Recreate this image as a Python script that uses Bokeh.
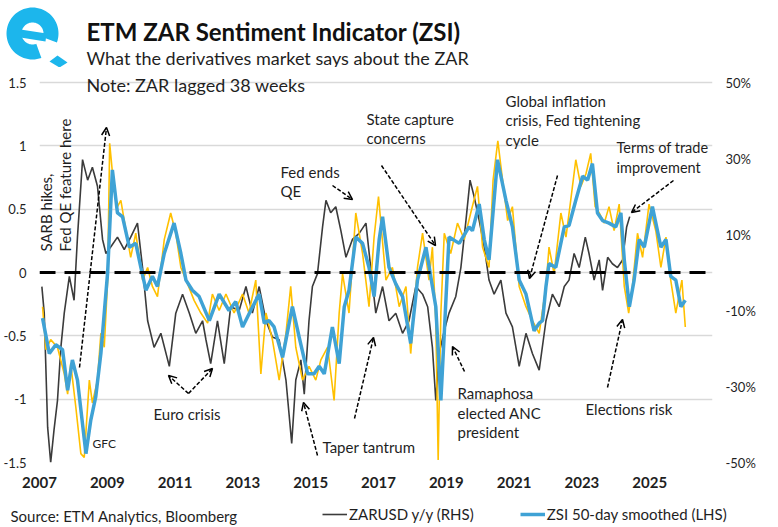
import math
from bokeh.plotting import figure
from bokeh.layouts import column
from bokeh.models import (Range1d, LinearAxis, FixedTicker, PrintfTickFormatter, Span,
                          Label, Arrow, OpenHead, Legend, LegendItem)
from bokeh.embed import file_html
from bokeh.resources import INLINE

# ---------------- data ----------------
year_ticks = [2007, 2009, 2011, 2013, 2015, 2017, 2019, 2021, 2023, 2025]
year_labels = ["2007", "2009", "2011", "2013", "2015", "2017", "2019", "2021", "2023", "2025"]
lhs_ticks = [-1.5, -1, -0.5, 0, 0.5, 1, 1.5]
lhs_labels = ["-1.5", "-1", "-0.5", "0", "0.5", "1", "1.5"]
rhs_ticks = [-50, -30, -10, 10, 30, 50]

# ZSI 50-day smoothed (LHS)
zsi_years = [2007.09, 2007.29, 2007.48, 2007.68, 2007.83, 2007.97, 2008.12, 2008.37, 2008.51, 2008.66,
             2008.81, 2009.01, 2009.15, 2009.30, 2009.45, 2009.65, 2009.84, 2009.99, 2010.14, 2010.33,
             2010.48, 2010.68, 2010.97, 2011.17, 2011.32, 2011.51, 2011.71, 2012.01, 2012.30, 2012.59,
             2012.79, 2012.99, 2013.23, 2013.48, 2013.63, 2013.77, 2013.92, 2014.17, 2014.46, 2014.66,
             2014.91, 2015.10, 2015.25, 2015.40, 2015.64, 2015.84, 2015.99, 2016.13, 2016.33, 2016.53,
             2016.72, 2016.87, 2017.02, 2017.12, 2017.31, 2017.51, 2017.71, 2017.95, 2018.15, 2018.40,
             2018.59, 2018.69, 2018.84, 2018.94, 2019.08, 2019.38, 2019.67, 2019.77, 2019.97, 2020.12,
             2020.26, 2020.51, 2020.76, 2020.95, 2021.15, 2021.35, 2021.59, 2021.74, 2021.84, 2021.94,
             2022.03, 2022.23, 2022.48, 2022.62, 2022.82, 2023.02, 2023.17, 2023.31, 2023.46, 2023.61,
             2023.80, 2024.00, 2024.15, 2024.25, 2024.40, 2024.54, 2024.69, 2024.84, 2025.08, 2025.33,
             2025.48, 2025.62, 2025.77, 2025.92, 2026.05]
zsi_smooth = [-0.36, -0.64, -0.57, -0.61, -0.93, -0.69, -0.85, -1.43, -1.17, -0.98,
              -0.64, 0.00, 0.81, 0.47, 0.44, 0.20, 0.23, 0.04, -0.14, -0.03,
              -0.11, 0.15, 0.39, 0.15, -0.06, -0.14, -0.19, -0.38, -0.17, -0.30,
              -0.23, -0.43, -0.30, -0.17, -0.40, -0.38, -0.43, -0.67, -0.27, -0.51,
              -0.80, -0.80, -0.74, -0.80, -0.43, -0.72, -0.27, -0.14, 0.28, 0.23,
              0.04, -0.19, 0.26, 0.44, 0.04, -0.09, -0.19, -0.56, -0.06, 0.20,
              -0.11, -0.27, -1.01, -0.48, 0.28, 0.23, 0.36, 0.33, 0.54, 0.26,
              0.10, 0.89, 0.57, 0.36, -0.06, -0.17, -0.46, -0.40, -0.38, -0.11,
              0.07, 0.04, 0.36, 0.37, 0.57, 0.76, 0.73, 0.86, 0.47, 0.41,
              0.39, 0.36, 0.47, 0.10, -0.27, -0.06, 0.26, 0.20, 0.52, 0.20,
              0.26, -0.03, -0.06, -0.27, -0.22]

# ZSI raw (LHS, yellow)
raw_years = [2007.09, 2007.19, 2007.33, 2007.53, 2007.73, 2007.83, 2007.92, 2008.07, 2008.22, 2008.32,
             2008.47, 2008.56, 2008.71, 2008.81, 2008.91, 2009.01, 2009.07, 2009.20, 2009.30, 2009.40,
             2009.55, 2009.69, 2009.84, 2010.04, 2010.19, 2010.33, 2010.48, 2010.68, 2010.87, 2011.02,
             2011.17, 2011.37, 2011.56, 2011.76, 2011.96, 2012.10, 2012.30, 2012.50, 2012.74, 2012.99,
             2013.18, 2013.38, 2013.53, 2013.68, 2013.87, 2014.07, 2014.27, 2014.41, 2014.56, 2014.76,
             2014.95, 2015.15, 2015.30, 2015.50, 2015.69, 2015.84, 2015.94, 2016.13, 2016.33, 2016.53,
             2016.72, 2016.87, 2017.00, 2017.22, 2017.41, 2017.61, 2017.81, 2017.95, 2018.15, 2018.30,
             2018.49, 2018.59, 2018.69, 2018.76, 2018.84, 2018.94, 2019.13, 2019.33, 2019.53, 2019.72,
             2019.92, 2020.07, 2020.26, 2020.38, 2020.52, 2020.66, 2020.81, 2020.95, 2021.15, 2021.35,
             2021.54, 2021.74, 2021.94, 2022.03, 2022.18, 2022.38, 2022.53, 2022.67, 2022.82, 2022.97,
             2023.12, 2023.26, 2023.39, 2023.51, 2023.66, 2023.80, 2023.95, 2024.10, 2024.25, 2024.38,
             2024.49, 2024.64, 2024.79, 2024.98, 2025.18, 2025.33, 2025.48, 2025.62, 2025.77, 2025.95,
             2026.05]
zsi_raw = [-0.27, -0.61, -0.53, -0.59, -0.80, -0.96, -0.72, -1.06, -1.43, -1.46,
           -0.85, -1.03, -0.85, -0.48, -0.59, -0.06, 1.02, 0.65, 0.52, 0.57,
           0.33, 0.12, 0.31, -0.06, 0.04, -0.11, -0.19, 0.26, 0.47, 0.31,
           0.04, -0.09, -0.22, -0.32, -0.40, -0.17, -0.30, -0.17, -0.32, -0.17,
           -0.32, -0.06, -0.80, -0.32, -0.53, -0.85, -0.48, -0.11, -0.59, -0.85,
           -0.74, -0.85, -0.69, -0.59, -1.01, -0.32, -0.01, -0.32, 0.47, 0.15,
           -0.27, 0.28, 0.60, -0.06, 0.04, -0.27, -0.11, -0.64, 0.04, 0.31,
           -0.06, 0.20, -0.38, -1.48, -0.32, 0.31, 0.15, 0.39, 0.26, 0.47,
           0.68, 0.20, 0.04, 0.73, 1.04, 0.73, 0.41, 0.52, -0.11, -0.27,
           -0.38, -0.48, -0.11, 0.20, -0.01, 0.47, 0.28, 0.57, 0.89, 0.68,
           0.78, 0.94, 0.52, 0.47, 0.39, 0.52, 0.33, 0.54, -0.11, -0.32,
           -0.11, 0.31, 0.12, 0.54, 0.33, 0.04, 0.28, -0.06, -0.32, -0.06,
           -0.43]

# ZARUSD y/y, % (RHS, lagged 38 weeks)
zar_years = [2007.07, 2007.14, 2007.24, 2007.33, 2007.43, 2007.53, 2007.63, 2007.73, 2007.88, 2008.02,
             2008.12, 2008.27, 2008.42, 2008.56, 2008.71, 2008.86, 2008.96, 2009.10, 2009.30, 2009.50,
             2009.69, 2009.89, 2010.04, 2010.19, 2010.38, 2010.58, 2010.83, 2011.02, 2011.22, 2011.42,
             2011.61, 2011.81, 2011.91, 2012.05, 2012.25, 2012.45, 2012.64, 2012.89, 2013.09, 2013.28,
             2013.48, 2013.68, 2013.87, 2014.07, 2014.27, 2014.44, 2014.56, 2014.71, 2014.81, 2014.95,
             2015.05, 2015.20, 2015.35, 2015.45, 2015.59, 2015.74, 2015.89, 2016.04, 2016.23, 2016.43,
             2016.63, 2016.77, 2016.92, 2017.12, 2017.31, 2017.51, 2017.71, 2017.90, 2018.10, 2018.30,
             2018.45, 2018.59, 2018.69, 2018.79, 2018.94, 2019.08, 2019.28, 2019.43, 2019.58, 2019.70,
             2019.82, 2019.97, 2020.12, 2020.26, 2020.41, 2020.61, 2020.76, 2020.95, 2021.15, 2021.35,
             2021.54, 2021.74, 2021.94, 2022.13, 2022.33, 2022.48, 2022.62, 2022.77, 2022.92, 2023.10,
             2023.21, 2023.36, 2023.51, 2023.61, 2023.76, 2023.90, 2024.05, 2024.20, 2024.32, 2024.41]
zar_yoy = [-3.7, -10.7, -40.7, -50.0, -41.3, -33.7, -19.7, -10.7, -1.0, -7.3,
           9.3, 29.7, 24.3, 27.7, 22.7, 8.7, 5.0, 6.7, 9.3, 6.0,
           9.3, 13.0, 1.3, -12.7, -19.7, -16.0, -24.7, -10.7, -5.7, -10.7,
           -16.0, -12.7, -17.7, -24.0, -12.7, -24.0, -9.0, -10.0, -3.7, -10.7,
           -3.7, -12.7, -17.0, -17.7, -28.3, -45.0, -28.3, -23.0, -32.0, -12.7,
           -3.7, -0.3, 12.0, 19.0, 15.7, 17.3, 11.0, 4.0, 8.7, 10.3,
           13.0, 1.3, -10.7, -3.7, -12.7, -10.7, -16.0, -12.7, -3.7, -5.7,
           -9.0, -19.7, -33.7, -21.3, -15.3, -10.7, -6.3, 1.3, 13.7, 24.3,
           20.0, 13.7, 6.7, -2.0, -5.7, -2.0, -10.7, -14.3, -24.7, -16.0,
           -21.3, -25.7, -12.7, -5.7, -9.0, -3.7, -2.0, 5.0, 1.3, 9.3,
           5.0, -2.0, 3.3, -4.7, 4.0, 2.3, 1.3, 3.3, 12.0, 14.7]

# ---------------- layout constants (page pixels) ----------------
W = 778
HEAD_H = 67                 # header strip (logo, title, subtitle)
MAIN_H = 433                # chart
FOOT_H = 527 - HEAD_H - MAIN_H   # footer strip (source, legend)
F_LEFT, F_RIGHT = 39, 712   # frame left / right on the page
F_TOP, F_BOT = HEAD_H, 462  # frame top / bottom on the page
PX_YEAR = 33.9
PX_UNIT = 380 / 3.0         # pixels per LHS unit
FONT = "Lato"
INK = "#1f1f1f"
GREY, YELLOW, BLUE = "#3b3b3b", "#FFC000", "#3FA2D5"

X0 = 2007.0
X1 = X0 + (F_RIGHT - F_LEFT) / PX_YEAR
Y0 = -1.5
Y1 = Y0 + (F_BOT - F_TOP) / PX_UNIT


def xd(px):  # page x -> data x
    return X0 + (px - F_LEFT) / PX_YEAR


def yd(py):  # page y -> data y
    return 1.5 - (py - 82) / PX_UNIT


def strip(height):
    fig = figure(width=W, height=height, output_backend="svg", toolbar_location=None,
                 x_range=Range1d(0, W), y_range=Range1d(height, 0),
                 x_axis_location=None, y_axis_location=None,
                 min_border=0, min_border_left=0, min_border_right=0,
                 min_border_top=0, min_border_bottom=0)
    fig.frame_align = False
    fig.grid.visible = False
    fig.outline_line_color = None
    fig.background_fill_color = "white"
    fig.border_fill_color = "white"
    return fig


# ---------------- header ----------------
head = strip(HEAD_H)
LOGO = "#1CB6EC"
cx, cy, ro, ri = 32, 33, 26, 11
outer = [(cx + ro * math.cos(math.radians(a)), cy + ro * math.sin(math.radians(a)))
         for a in range(70, 381, 5)]
inner = [(cx + ri * math.cos(math.radians(a)), cy + ri * math.sin(math.radians(a)))
         for a in range(380, 69, -5)]
ring = outer + inner
head.patch([a for a, b in ring], [b for a, b in ring], fill_color=LOGO, line_alpha=0)
bar = [(cx - ri - 1, cy - 4), (cx + ri + 3, cy), (cx + ri + 2, cy + 8), (cx - ri - 1, cy + 4)]
head.patch([a for a, b in bar], [b for a, b in bar], fill_color=LOGO, line_alpha=0)
diamond = [(49, 61), (57, 55), (67, 62), (59, 67)]
head.patch([a for a, b in diamond], [b for a, b in diamond], fill_color=LOGO, line_alpha=0)

head.add_layout(Label(x=86, y=31, text="ETM ZAR Sentiment Indicator (ZSI)", text_font=FONT,
                      text_font_size="24px", text_font_style="bold", text_color="#111111",
                      text_baseline="alphabetic"))
head.add_layout(Label(x=86, y=57, text="What the derivatives market says about the ZAR",
                      text_font=FONT, text_font_size="18px", text_color=INK,
                      text_baseline="alphabetic"))

# ---------------- main chart ----------------
p = figure(width=W, height=MAIN_H, output_backend="svg", toolbar_location=None,
           x_range=Range1d(X0, X1), y_range=Range1d(Y0, Y1),
           min_border_left=F_LEFT, min_border_right=W - F_RIGHT,
           min_border_top=0, min_border_bottom=MAIN_H - (F_BOT - F_TOP))
p.frame_align = False
p.outline_line_color = None
p.background_fill_color = "white"
p.border_fill_color = "white"

p.xaxis.ticker = FixedTicker(ticks=year_ticks)
p.xaxis.major_label_overrides = dict(zip(year_ticks, year_labels))
p.xaxis.major_label_text_font = FONT
p.xaxis.major_label_text_font_size = "15px"
p.xaxis.major_label_text_font_style = "bold"
p.xaxis.major_label_text_color = INK
p.xaxis.major_label_standoff = 14
p.yaxis.ticker = FixedTicker(ticks=lhs_ticks)
p.yaxis.major_label_overrides = dict(zip(lhs_ticks, lhs_labels))
p.yaxis.major_label_text_font = FONT
p.yaxis.major_label_text_font_size = "13px"
p.yaxis.major_label_text_color = INK
p.yaxis.major_label_standoff = 13

p.extra_y_ranges = {"pct": Range1d(-50, -50 + (F_BOT - F_TOP) / (380 / 100.0))}
rax = LinearAxis(y_range_name="pct", ticker=FixedTicker(ticks=rhs_ticks),
                 formatter=PrintfTickFormatter(format="%d%%"))
rax.major_label_text_font = FONT
rax.major_label_text_font_size = "13px"
rax.major_label_text_color = INK
rax.major_label_standoff = 13
p.add_layout(rax, "right")

for ax in (p.xaxis[0], p.yaxis[0], rax):
    ax.axis_line_color = None
    ax.major_tick_line_color = None
    ax.minor_tick_line_color = None
    ax.major_tick_out = 0
    ax.major_tick_in = 0
    ax.minor_tick_out = 0
    ax.minor_tick_in = 0

p.xgrid.visible = False
p.ygrid.ticker = FixedTicker(ticks=lhs_ticks)
p.ygrid.grid_line_color = "#d9d9d9"
p.ygrid.grid_line_width = 1.5

r_zar = p.line(zar_years, zar_yoy, y_range_name="pct", line_color=GREY, line_width=1.6)
r_raw = p.line(raw_years, zsi_raw, line_color=YELLOW, line_width=1.6)
r_zsi = p.line(zsi_years, zsi_smooth, line_color=BLUE, line_width=3.5)

p.add_layout(Span(location=0, dimension="width", line_color="black",
                  line_width=3, line_dash="16 9"))


def text(px, py, s, size="15px", angle=0.0):
    p.add_layout(Label(x=xd(px), y=yd(py), text=s, text_font=FONT, text_font_size=size,
                       text_align="left", text_baseline="middle", angle=angle,
                       text_color=INK))


p.add_layout(Label(x=xd(86), y=yd(84), text="Note: ZAR lagged 38 weeks", text_font=FONT,
                   text_font_size="18px", text_color=INK, text_baseline="alphabetic"))

text(45, 251, "SARB hikes,", angle=math.pi / 2)
text(64, 251, "Fed QE feature here", angle=math.pi / 2)
text(153, 413, "Euro crisis")
text(92, 443, "GFC", size="12px")
text(280, 171, "Fed ends")
text(280, 190, "QE")
text(366, 118, "State capture")
text(366, 137, "concerns")
text(505, 100, "Global inflation")
text(505, 119, "crisis, Fed tightening")
text(505, 139, "cycle")
text(616, 147, "Terms of trade", size="14.5px")
text(616, 167, "improvement", size="14.5px")
text(322, 446, "Taper tantrum")
text(457, 392, "Ramaphosa")
text(457, 412, "elected ANC")
text(457, 431, "president")
text(585, 408, "Elections risk")

arrows = [((79, 367), (106, 127)),
          ((188, 393), (168, 375)), ((188, 393), (212, 368)),
          ((332, 185), (352, 199)),
          ((381, 165), (435, 245)),
          ((557, 175), (529, 278)),
          ((673, 180), (631, 212)),
          ((317, 455), (303, 402)), ((354, 418), (373, 337)),
          ((464, 371), (452, 346)),
          ((607, 387), (622, 319))]
for (sx, sy), (ex, ey) in arrows:
    p.add_layout(Arrow(x_start=xd(sx), y_start=yd(sy), x_end=xd(ex), y_end=yd(ey),
                       line_color="black", line_width=1.5, line_dash="4 2",
                       end=OpenHead(size=8, line_width=1.5, line_color="black")))

# ---------------- footer (source + legend) ----------------
foot = strip(FOOT_H)
foot.add_layout(Label(x=10, y=15, text="Source: ETM Analytics, Bloomberg", text_font=FONT,
                      text_font_size="15px", text_color=INK, text_baseline="middle"))
# legend keys: same series, styled identically (they fall outside this strip's ranges)
k_zar = foot.line(zar_years, zar_yoy, line_color=GREY, line_width=1.6)
k_zsi = foot.line(zsi_years, zsi_smooth, line_color=BLUE, line_width=3.5)
legend = Legend(items=[LegendItem(label="ZARUSD y/y (RHS)", renderers=[k_zar]),
                       LegendItem(label="ZSI 50-day smoothed (LHS)", renderers=[k_zsi])],
                orientation="horizontal", location=(322, 4),
                label_text_font=FONT, label_text_font_size="15px", label_text_color=INK,
                glyph_width=25, glyph_height=16, label_height=16, label_standoff=2,
                spacing=46, padding=0, margin=0,
                border_line_alpha=0, background_fill_alpha=0)
foot.add_layout(legend)

layout = column(head, p, foot, spacing=0)
open("out.html", "w").write(file_html(layout, INLINE))
